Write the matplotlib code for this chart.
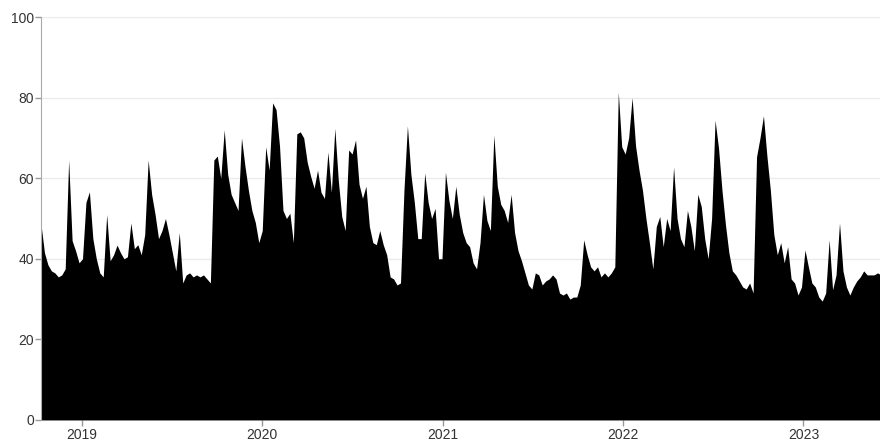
import numpy as np
import pandas as pd
import matplotlib
matplotlib.use("Agg")
import matplotlib.pyplot as plt
import matplotlib.dates as mdates

plt.rcParams['font.family'] = ['Liberation Sans', 'DejaVu Sans']

# weekly values, starting 2018-10-10
start_date = "2018-10-10"
values = [
    48.5, 41.5, 38.5, 37, 36.5, 35.5, 36, 37.5, 64.5, 44.5,
    42, 39, 40, 54, 56.6, 45, 40, 36.5, 35.5, 51,
    39.5, 41, 43.4, 41.5, 40, 40.5, 48.9, 42.5, 43.5, 41,
    46, 64.5, 56, 51, 45, 47, 50, 46, 41.5, 37,
    46.5, 34, 36, 36.5, 35.5, 36, 35.5, 36, 35, 34,
    64.5, 65.5, 60, 72, 61, 56, 54, 52, 70, 63,
    57, 52, 49, 44, 47, 67.8, 62, 78.7, 77, 68,
    52, 50, 51.3, 44, 71, 71.5, 70, 64, 60.5, 57.5,
    62, 56.5, 55, 66.5, 56.5, 72.4, 59.5, 50.5, 47, 67,
    66, 69.5, 58.5, 55, 58, 48, 44, 43.5, 47, 43.5,
    41, 35.5, 35, 33.5, 34, 57, 73, 61, 54, 45,
    45, 61.3, 54, 50, 52.5, 40, 40, 61.5, 54.5, 50,
    58, 51, 46.5, 44, 43, 39, 37.5, 44, 56, 49.5,
    47, 70.7, 58, 53.5, 52, 49, 56, 46.5, 42, 39.5,
    36.5, 33.5, 32.5, 36.5, 36, 33.5, 34.5, 35, 36, 35,
    31.5, 31, 31.5, 30, 30.5, 30.5, 33.5, 44.7, 41, 38,
    37, 38, 35.5, 36.5, 35.5, 36.5, 38, 81.4, 67.8, 66,
    70, 80, 68, 62, 57, 50, 44, 37.5, 48, 50.5,
    43, 50, 47, 62.8, 50, 45, 43, 52, 48, 42,
    56, 53, 45, 40, 50, 74.4, 67.5, 57, 48.5, 41.5,
    37, 36, 34.5, 33, 32.5, 34, 31.5, 65.3, 70, 75.5,
    65.5, 57, 46, 41, 44, 39, 43, 35, 34, 31,
    33, 42.2, 38, 34, 33, 30.5, 29.5, 31.5, 44.7, 32.3,
    36, 48.9, 37, 33, 31, 33, 34.5, 35.5, 37, 36,
    36, 36, 36.5, 36,
]
dates = pd.date_range(start_date, periods=len(values), freq="7D")

y_ticks = [0, 20, 40, 60, 80, 100]
year_ticks = ["2019", "2020", "2021", "2022", "2023"]

fig = plt.figure(figsize=(8.8, 4.43), dpi=100)
ax = fig.add_axes([0.0466, 0.052, 0.9534, 0.9096])

ax.fill_between(dates, values, 0, color="black", lw=0)

ax.set_ylim(0, 100)
ax.set_xlim(dates[0], pd.Timestamp("2023-06-05"))
ax.set_yticks(y_ticks)
ax.set_xticks([pd.Timestamp(y + "-01-01") for y in year_ticks])
ax.xaxis.set_major_formatter(mdates.DateFormatter("%Y"))

ax.grid(axis="y", color="#ebebeb", lw=1)
ax.set_axisbelow(True)
for s in ["top", "right", "bottom"]:
    ax.spines[s].set_visible(False)
ax.spines["left"].set_color("#aaaaaa")
ax.tick_params(axis="both", colors="#999999", labelcolor="#333333",
               labelsize=10, length=4, width=1)
ax.tick_params(axis="x", pad=1.5)
ax.tick_params(axis="y", pad=1)

fig.savefig("out.png", dpi=100)
